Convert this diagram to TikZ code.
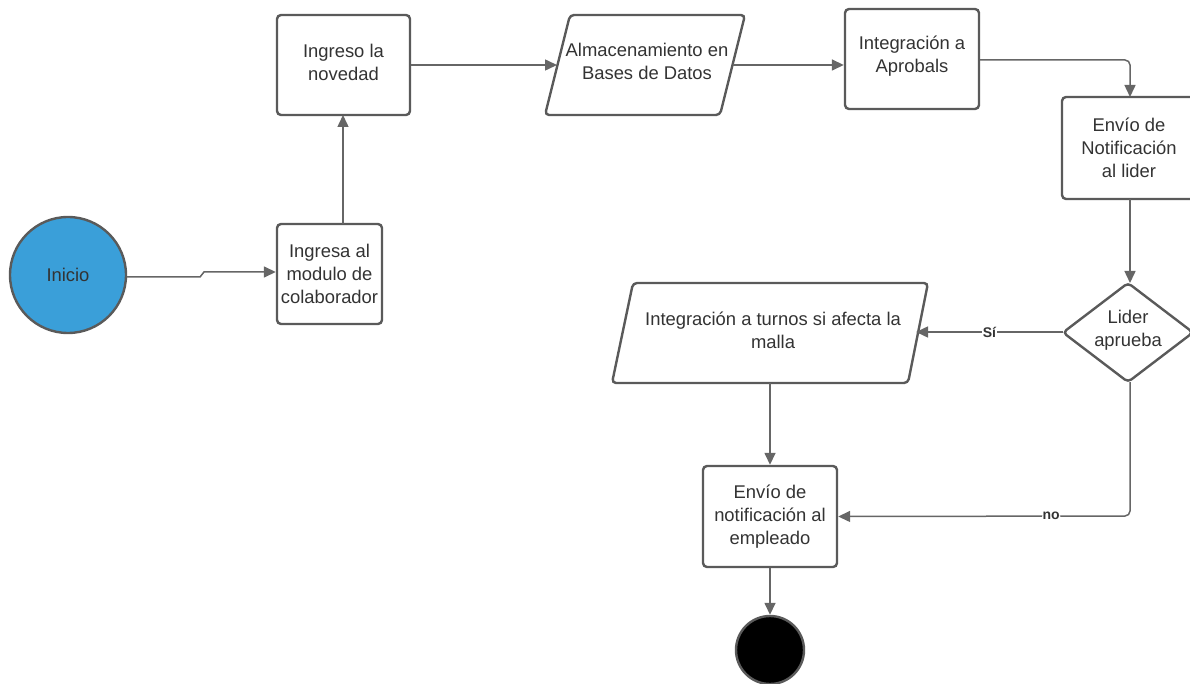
\documentclass[tikz,border=0pt]{standalone}
\usepackage{fontspec}
\setmainfont{Liberation Sans}
\usetikzlibrary{arrows.meta}
\definecolor{edge}{HTML}{5A5A5A}
\definecolor{wire}{HTML}{666666}
\definecolor{startblue}{HTML}{3A9FD9}
\definecolor{txt}{HTML}{333333}
\begin{document}
\begin{tikzpicture}[x=1pt,y=-1pt,
  every node/.style={font=\fontsize{18.4}{23}\selectfont, text=txt, align=center},
  procbox/.style={draw=edge, line width=2.4pt, rounded corners=4pt, fill=white, inner sep=0pt},
  shapeline/.style={draw=edge, line width=2.4pt, rounded corners=4pt, fill=white},
  flow/.style={draw=wire, line width=1.5pt, -{Triangle[length=12pt,width=11pt]}},
  tag/.style={font=\fontsize{14}{16}\selectfont\bfseries, fill=white, inner sep=0.5pt, text=txt}]
\useasboundingbox (0,0) rectangle (1190,684);

% start and end terminals
\node[circle, draw=edge, line width=2.4pt, fill=startblue, minimum size=116pt, inner sep=0pt] (inicio) at (68,275) {Inicio};
\node[circle, draw=edge, line width=2.4pt, fill=black, minimum size=68pt, inner sep=0pt] (fin) at (770,650) {};

% process boxes
\node[procbox, minimum width=105pt, minimum height=100pt] (modulo) at (329.5,274) {Ingresa al\\modulo de\\colaborador};
\node[procbox, minimum width=133pt, minimum height=100pt] (novedad) at (343.5,65) {};
\node (novedadtxt) at (343.5,62) {Ingreso la\\novedad};
\node[procbox, minimum width=134pt, minimum height=100pt] (aprobals) at (912,59) {};
\node (aprobalstxt) at (912,56.5) {Integración a\\Aprobals};
\node[procbox, minimum width=134pt, minimum height=102pt] (lider) at (1129,148) {Envío de\\Notificación\\al lider};
\node[procbox, minimum width=134pt, minimum height=101pt] (empleado) at (770,516.5) {Envío de\\notificación al\\empleado};

% data (parallelogram) shapes
\draw[shapeline] (570,15) -- (745,15) -- (720,115) -- (545,115) -- cycle;
\node (almacen) at (647,61.5) {Almacenamiento en\\Bases de Datos};
\coordinate (almacenL) at (557,65);
\coordinate (almacenR) at (733,65);

\draw[shapeline] (633,283) -- (928,283) -- (908,383) -- (612,383) -- cycle;
\node (turnos) at (773,330.5) {Integración a turnos si afecta la\\malla};
\coordinate (turnosR) at (916,332);
\coordinate (turnosB) at (770,383);

% decision
\draw[shapeline] (1128,283) -- (1193,332.5) -- (1128,382) -- (1063,332.5) -- cycle;
\node (aprueba) at (1128,330) {Lider\\aprueba};
\coordinate (apruebaT) at (1130,283);
\coordinate (apruebaL) at (1063,332);
\coordinate (apruebaB) at (1130,382);

% connectors
\draw[flow] (inicio.east |- 0,277) -- (200,277) -- (204,272) -- (modulo.west |- 0,272);
\draw[flow] (343,224) -- (343,115);
\draw[flow] (novedad.east) -- (almacenL);
\draw[flow] (almacenR) -- (aprobals.west |- almacenR);
\draw[flow, rounded corners=5pt] (aprobals.east |- 0,60) -- (1130,60) -- (1130,97);
\draw[flow] (1130,199) -- (apruebaT);
\draw[flow] (apruebaL) -- node[tag, pos=0.5] {Sí} (turnosR);
\draw[flow] (turnosB) -- (empleado.north);
\draw[flow, rounded corners=5pt] (apruebaB) -- (1130,516) -- node[tag, pos=0.27] {no} (empleado.east);
\draw[flow] (empleado.south) -- (fin.north);
\end{tikzpicture}
\end{document}
